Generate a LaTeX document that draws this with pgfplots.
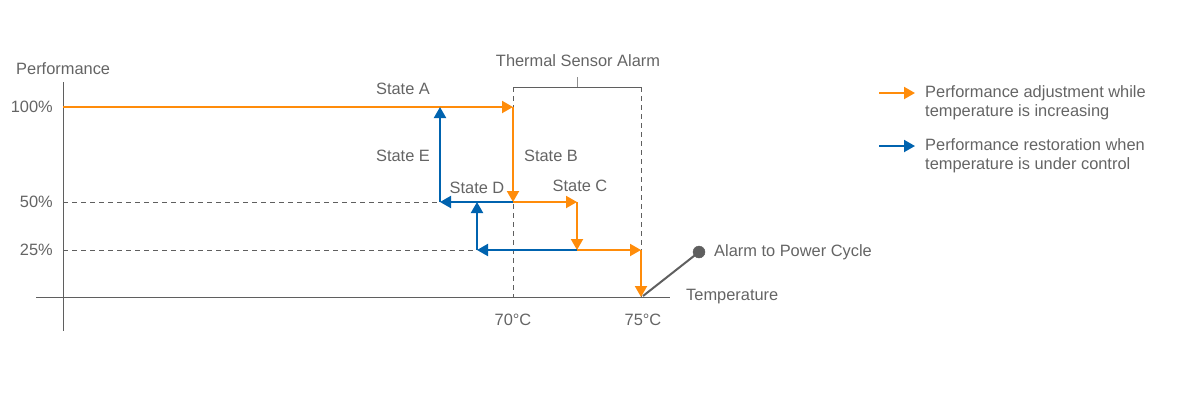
\documentclass[border=0pt]{standalone}
\usepackage{pgfplots}
\pgfplotsset{compat=1.18}
\usepackage{fontspec}
\setmainfont{Liberation Sans}
\usetikzlibrary{arrows.meta}
\definecolor{orng}{RGB}{255,140,10}
\definecolor{blu}{RGB}{0,99,175}
\definecolor{txt}{RGB}{100,100,100}
\definecolor{axc}{RGB}{95,95,95}
\tikzset{lbl/.style={font=\fontsize{16.4bp}{19bp}\selectfont, text=txt, inner sep=0pt},
  ah/.style={-{Triangle[length=11bp,width=12bp]}, line width=2bp}}
\begin{document}
\begin{tikzpicture}
\begin{axis}[
  scale only axis, width=1200bp, height=400bp,
  xmin=0, xmax=1200, ymin=0, ymax=400, y dir=reverse,
  hide axis, clip=false,
]
% axes
\addplot[axc, line width=1bp, no marks] coordinates {(63,82) (63,331)};
\addplot[axc, line width=1bp, no marks] coordinates {(36,297) (670,297)};
% dashed guides
\addplot[axc, line width=0.8bp, dash pattern=on 5bp off 4bp, no marks] coordinates {(63,202) (440,202)};
\addplot[axc, line width=0.8bp, dash pattern=on 5bp off 4bp, no marks] coordinates {(63,250) (477,250)};
\addplot[axc, line width=0.8bp, dash pattern=on 5bp off 4bp, no marks] coordinates {(513,87) (513,297)};
\addplot[axc, line width=0.8bp, dash pattern=on 5bp off 4bp, no marks] coordinates {(641,87) (641,297)};
% alarm bracket
\addplot[axc, line width=0.9bp, no marks] coordinates {(513,87) (641,87)};
\addplot[axc!70, line width=0.9bp, no marks] coordinates {(577,87) (577,77)};
% orange path
\addplot[orng, ah, no marks] coordinates {(63,107) (513,107)};
\addplot[orng, ah, no marks] coordinates {(513,107) (513,202)};
\addplot[orng, ah, no marks] coordinates {(513,202) (577,202)};
\addplot[orng, ah, no marks] coordinates {(577,202) (577,250)};
\addplot[orng, ah, no marks] coordinates {(577,250) (641,250)};
\addplot[orng, ah, no marks] coordinates {(641,250) (641,297)};
% blue path
\addplot[blu, ah, no marks] coordinates {(513,202) (440,202)};
\addplot[blu, ah, no marks] coordinates {(440,202) (440,107)};
\addplot[blu, ah, no marks] coordinates {(577,250) (477,250)};
\addplot[blu, ah, no marks] coordinates {(477,250) (477,202)};
% alarm to power cycle
\addplot[axc, line width=2bp, no marks] coordinates {(643,296) (699,252)};
\addplot[axc, only marks, mark=*, mark size=6bp, mark options={fill=axc, draw=axc}] coordinates {(699,252)};
% legend
\addplot[orng, ah, no marks] coordinates {(879,93) (915,93)};
\addplot[blu, ah, no marks] coordinates {(879,146) (915,146)};
\node[lbl, anchor=west, align=left] at (axis cs:925,102.5) {Performance adjustment while\\temperature is increasing};
\node[lbl, anchor=west, align=left] at (axis cs:925,155.5) {Performance restoration when\\temperature is under control};
% labels
\node[lbl, anchor=west] at (axis cs:16,69) {Performance};
\node[lbl, anchor=east] at (axis cs:53,107) {100\%};
\node[lbl, anchor=east] at (axis cs:53,202) {50\%};
\node[lbl, anchor=east] at (axis cs:53,250) {25\%};
\node[lbl, anchor=west] at (axis cs:686,297) {Temperature};
\node[lbl, anchor=west] at (axis cs:714,252) {Alarm to Power Cycle};
\node[lbl] at (axis cs:513,320) {70\textdegree C};
\node[lbl] at (axis cs:643,320) {75\textdegree C};
\node[lbl] at (axis cs:578,61) {Thermal Sensor Alarm};
\node[lbl] at (axis cs:403,89) {State A};
\node[lbl] at (axis cs:403,156) {State E};
\node[lbl] at (axis cs:551,156) {State B};
\node[lbl] at (axis cs:477,188) {State D};
\node[lbl] at (axis cs:580,186) {State C};
\end{axis}
\path (current axis.south west) rectangle (current axis.north east);
\end{tikzpicture}
\end{document}
